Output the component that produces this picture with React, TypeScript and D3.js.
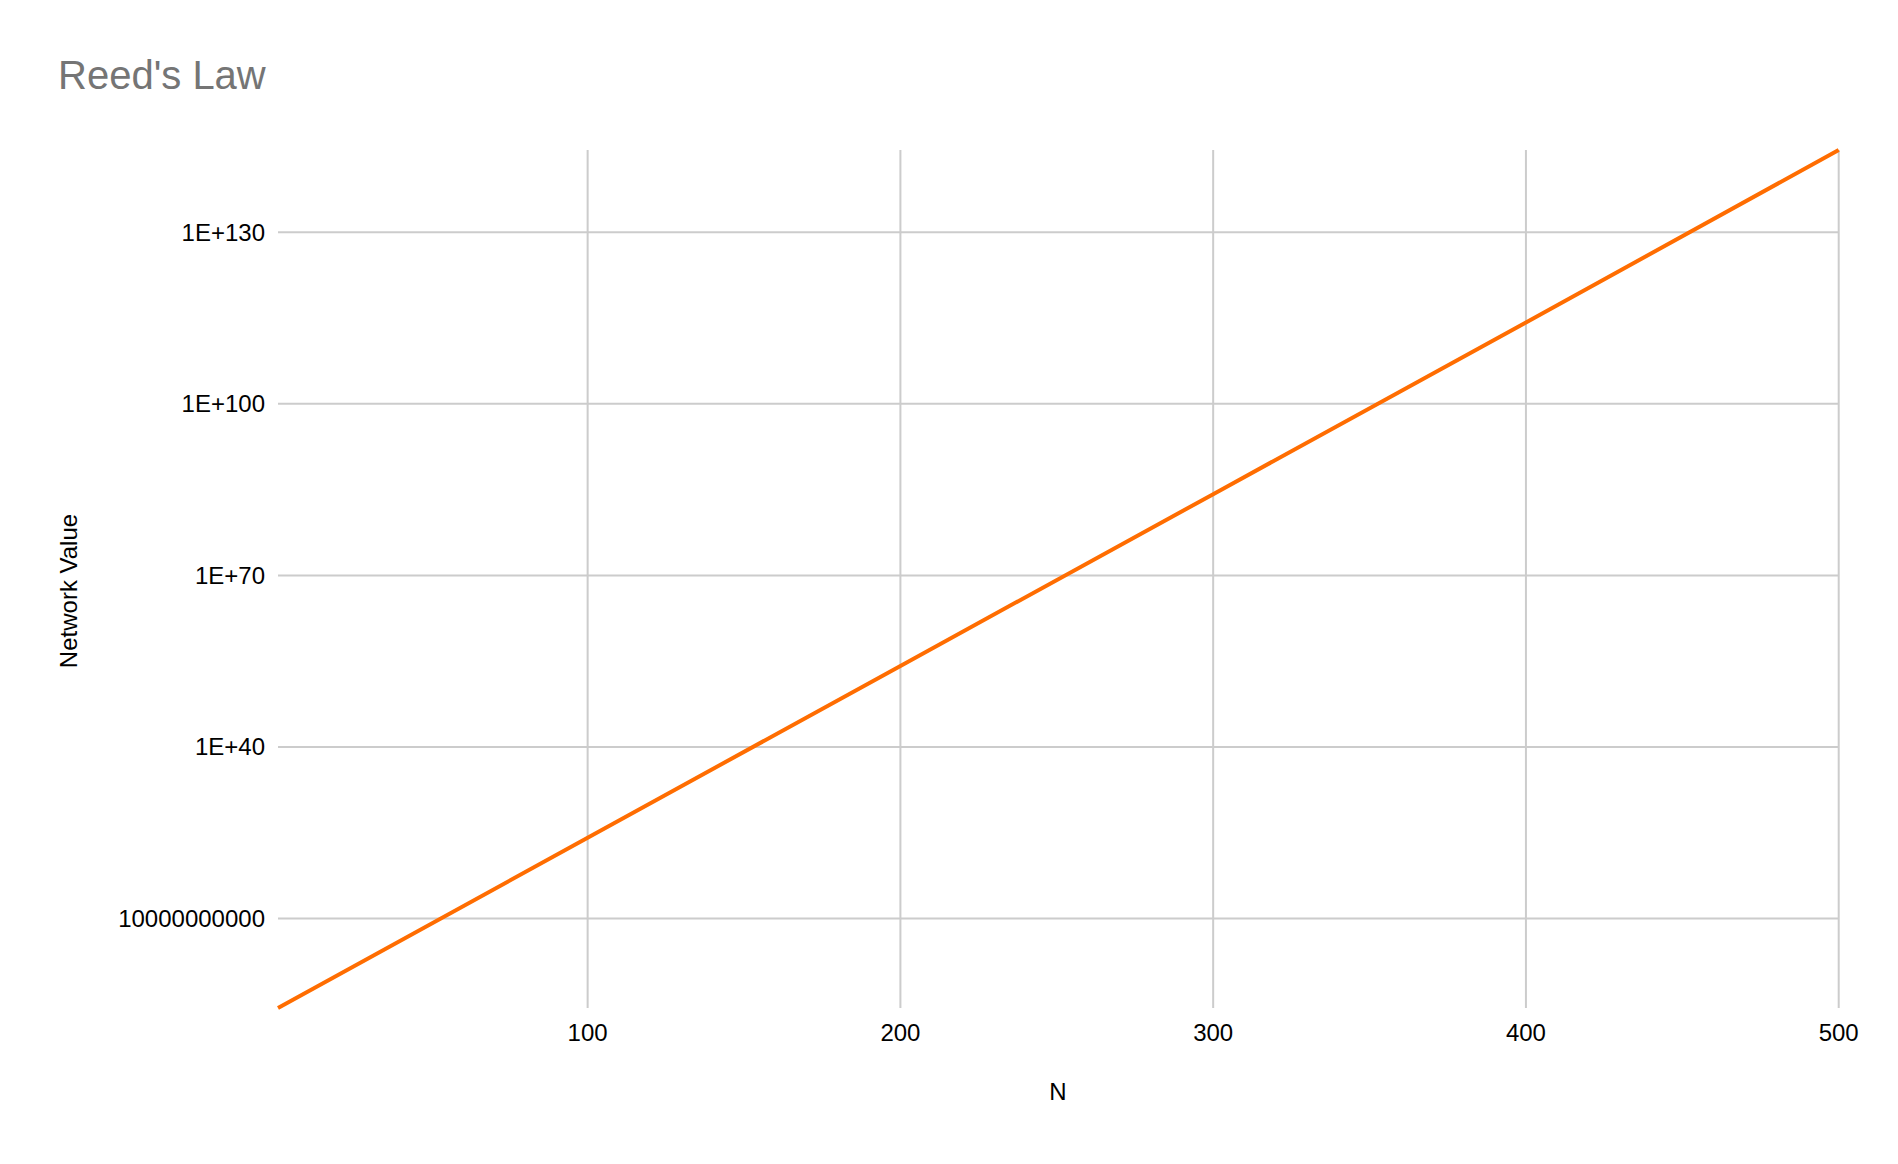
import React from "react";
import * as d3 from "d3";

const nValues: number[] = [1, 100, 200, 300, 400, 500];
const networkValues: number[] = [2.2e-6, 1.3e24, 1.5e54, 1.6e84, 1.7e114, 2.5e144];
const xTicks: number[] = [100, 200, 300, 400, 500];
const yTicks: number[] = [1e10, 1e40, 1e70, 1e100, 1e130];
const yTickLabels: string[] = ["10000000000", "1E+40", "1E+70", "1E+100", "1E+130"];

const W = 1898;
const H = 1164;
const M = { left: 278, right: 59.3, top: 150, bottom: 156 };
const FONT = "'Liberation Sans', Arial, sans-serif";

export default function App() {
  const x = d3.scaleLinear().domain([nValues[0], nValues[nValues.length - 1]]).range([M.left, W - M.right]);
  const y = d3
    .scaleLog()
    .domain([networkValues[0], networkValues[networkValues.length - 1]])
    .range([H - M.bottom, M.top]);
  const pts = nValues.map((n, i) => [n, networkValues[i]] as [number, number]);
  const line = d3
    .line<[number, number]>()
    .x((d) => x(d[0]))
    .y((d) => y(d[1]));
  const [y0, y1] = y.range();
  const [x0, x1] = x.range();

  return (
    <svg
      width={W}
      height={H}
      style={{ position: "absolute", left: 0, top: 0, display: "block", background: "#fff" }}
      fontFamily={FONT}
    >
      <rect x={0} y={0} width={W} height={H} fill="#fff" />
      <text x={58} y={89} fontSize={40} fill="#757575">
        Reed's Law
      </text>
      {yTicks.map((t) => (
        <line key={"hy" + t} x1={x0} x2={x1} y1={y(t)} y2={y(t)} stroke="#cccccc" strokeWidth={2} />
      ))}
      {xTicks.map((t) => (
        <line key={"vx" + t} x1={x(t)} x2={x(t)} y1={y0} y2={y1} stroke="#cccccc" strokeWidth={2} />
      ))}
      {yTicks.map((t, i) => (
        <text key={"yl" + t} x={265} y={y(t)} dy="0.35em" textAnchor="end" fontSize={24} fill="#000">
          {yTickLabels[i]}
        </text>
      ))}
      {xTicks.map((t) => (
        <text key={"xl" + t} x={x(t)} y={1041} textAnchor="middle" fontSize={24} fill="#000">
          {t}
        </text>
      ))}
      <path d={line(pts) || ""} fill="none" stroke="#ff6d01" strokeWidth={4} strokeLinejoin="round" />
      <text x={1058} y={1100} textAnchor="middle" fontSize={24} fill="#000">
        N
      </text>
      <text
        transform={`translate(77, 591) rotate(-90)`}
        textAnchor="middle"
        fontSize={24}
        fill="#000"
      >
        Network Value
      </text>
    </svg>
  );
}
